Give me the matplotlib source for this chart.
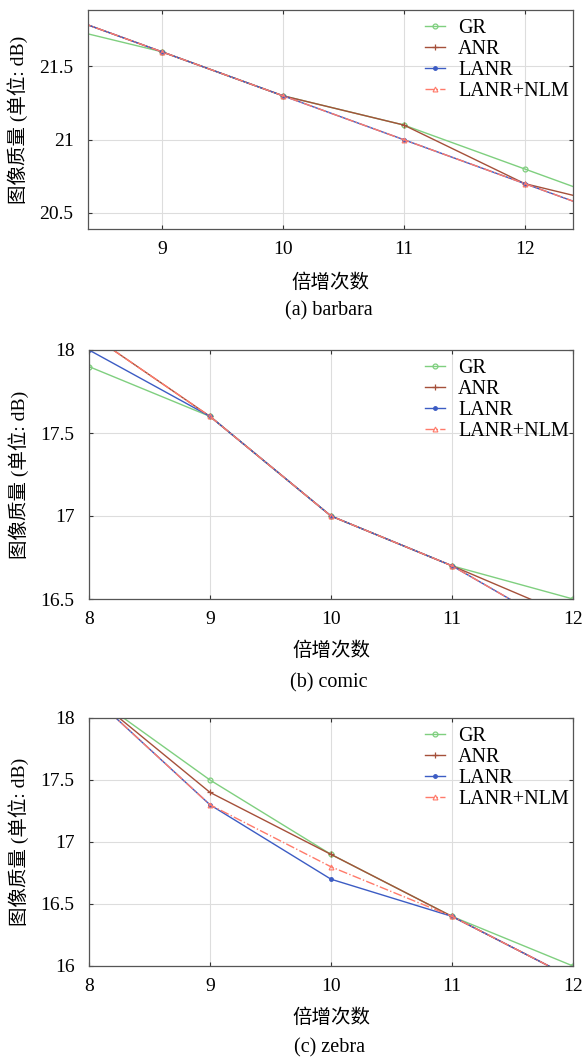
import numpy as np
import matplotlib
matplotlib.use("Agg")
import matplotlib.pyplot as plt

plt.rcParams['font.family'] = ['Liberation Serif', 'Noto Sans CJK SC']

# x: number of doublings (end points lie outside the clipped view)
x_a = [8, 9, 10, 11, 12, 13]
gr_a = [21.8, 21.6, 21.3, 21.1, 20.8, 20.5]
anr_a = [21.9, 21.6, 21.3, 21.1, 20.7, 20.5]
lanr_a = [21.9, 21.6, 21.3, 21.0, 20.7, 20.4]
nlm_a = [21.9, 21.6, 21.3, 21.0, 20.7, 20.4]

x_b = [8, 9, 10, 11, 12]
gr_b = [17.9, 17.6, 17.0, 16.7, 16.5]
anr_b = [18.1, 17.6, 17.0, 16.7, 16.39]
lanr_b = [18.0, 17.6, 17.0, 16.7, 16.28]
nlm_b = [18.1, 17.6, 17.0, 16.7, 16.28]

x_c = [8, 9, 10, 11, 12]
gr_c = [18.2, 17.5, 16.9, 16.4, 16.0]
anr_c = [18.2, 17.4, 16.9, 16.4, 15.9]
lanr_c = [18.2, 17.3, 16.7, 16.4, 15.9]
nlm_c = [18.2, 17.3, 16.8, 16.4, 15.9]

names = ["GR", "ANR", "LANR", "LANR+NLM"]
captions = ["(a) barbara", "(b) comic", "(c) zebra"]

STYLES = [
    dict(color="#7fcf7f", ls="-", marker="o", mfc="none", ms=3.5, mew=0.9),
    dict(color="#a5503a", ls="-", marker="+", ms=5, mew=0.9),
    dict(color="#3c5cc4", ls="-", marker=".", ms=5),
    dict(color="#ff7a6a", ls="-.", marker="^", mfc="none", ms=3.5, mew=0.8),
]

panels = [
    (x_a, [gr_a, anr_a, lanr_a, nlm_a], (8.39, 12.4), (20.39, 21.885), [20.5, 21, 21.5], [9, 10, 11, 12]),
    (x_b, [gr_b, anr_b, lanr_b, nlm_b], (8, 12), (16.5, 18), [16.5, 17, 17.5, 18], [8, 9, 10, 11, 12]),
    (x_c, [gr_c, anr_c, lanr_c, nlm_c], (8, 12), (16, 18), [16, 16.5, 17, 17.5, 18], [8, 9, 10, 11, 12]),
]
W, H = 585, 1059
boxes = [(88, 573, 10, 229), (89, 573, 350, 599), (89, 573, 718, 966)]   # left, right, top, bottom in px
xlab_y = [283, 651, 1018]
cap_y = [311, 683, 1048]

fig = plt.figure(figsize=(W / 100, H / 100), dpi=100)
for k, (xs, series, xl, yl, yt, xt) in enumerate(panels):
    l, r, t, b = boxes[k]
    ax = fig.add_axes([l / W, 1 - b / H, (r - l) / W, (b - t) / H])
    for name, ys, st in zip(names, series, STYLES):
        ax.plot(xs, ys, lw=1.0, label=name, **st)
    ax.set_xlim(*xl)
    ax.set_ylim(*yl)
    ax.set_yticks(yt)
    ax.set_yticklabels([f"{v:g}" for v in yt])
    ax.set_xticks(xt)
    ax.grid(color="#dddddd", lw=0.8)
    ax.tick_params(direction="in", length=3, labelsize=14, colors="#333333",
                   labelcolor="black", top=True, right=True)
    ax.tick_params(axis="x", pad=8.5)
    ax.tick_params(axis="y", pad=10.5)
    for s in ax.spines.values():
        s.set_color("#555555")
        s.set_linewidth(0.9)
    ax.set_ylabel("图像质量 (单位: dB)", fontsize=14, labelpad=8)
    ax.legend(loc="upper right", bbox_to_anchor=(1.0, 1.0 - 5 / (b - t)), frameon=False,
              fontsize=14.5, handlelength=1.0, handletextpad=0.65, labelspacing=0.1,
              borderaxespad=0.0, borderpad=0.2)
    cx = (l + r) / 2 / W
    fig.text(cx, 1 - xlab_y[k] / H, "倍增次数", ha="center", va="center", fontsize=14)
    fig.text(cx - 0.003, 1 - cap_y[k] / H, captions[k], ha="center", va="center", fontsize=14.5)

fig.savefig("out.png", dpi=100)
